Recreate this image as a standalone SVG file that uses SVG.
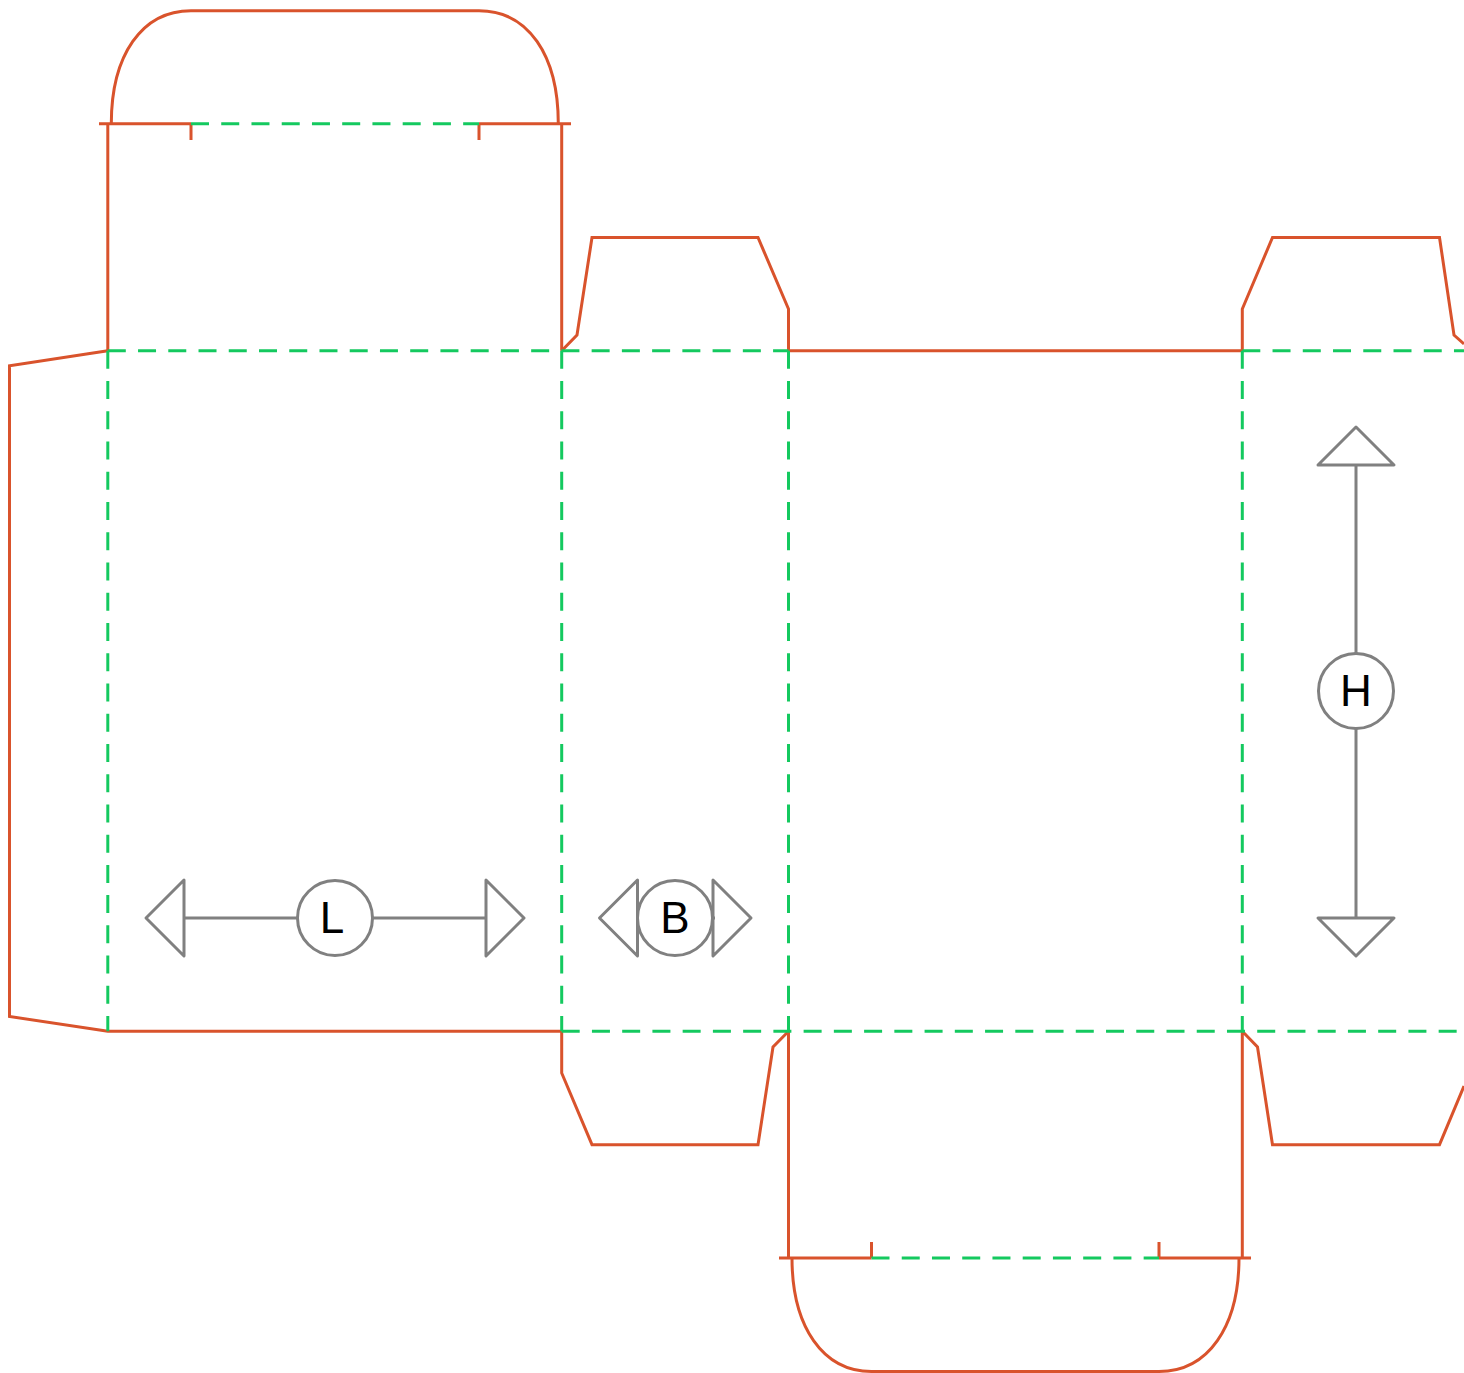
<svg xmlns="http://www.w3.org/2000/svg" width="1464" height="1373" viewBox="0 0 1464 1373">
<style>
.cut{fill:none;stroke:#d9532c;stroke-width:3;stroke-linejoin:miter}
.fold{fill:none;stroke:#14c95f;stroke-width:3;stroke-dasharray:18 12.24}
.dim{fill:none;stroke:#808080;stroke-width:3;stroke-linejoin:round}
.tri{fill:#fff;stroke:#808080;stroke-width:3;stroke-linejoin:round}
.circ{fill:#fff;stroke:#808080;stroke-width:3}
text{font-family:"Liberation Sans",Arial,sans-serif;font-size:44px;fill:#000;text-anchor:middle}
</style>
<rect width="1464" height="1373" fill="#fff"/>
<g id="cut-lines">
<path class="cut" d="M107.800 350.800V123.800M561.700 350.800V123.800M99 123.800H191M479 123.800H571M191 123.800V140M479 123.800V140"/>
<path class="cut" d="M111.300 123.800C111.300 55 142 10.700 191 10.700H479C528 10.700 558.300 55 558.300 123.800"/>
<path class="cut" d="M107.800 350.800L9.500 365.800V1016.500L107.800 1031.300H561.700"/>
<path class="cut" d="M561.700 350.800L577 335L592 237.500H758L788.500 309V350.800H1242.300V309L1272.500 237.500H1439.500L1454 335L1464 344"/>
<path class="cut" d="M561.700 1031.300V1073L592 1144.700H758L773 1047L788.500 1031.300V1258M1242.300 1031.300V1258M1242.300 1031.300L1257.500 1047L1272.500 1144.700H1439.500L1464 1086"/>
<path class="cut" d="M779 1258H871.500M1159 1258H1251M871.500 1258V1242M1159 1258V1242"/>
<path class="cut" d="M792 1258C792 1327 823 1371.500 871.500 1371.500H1159C1208 1371.500 1239 1327 1239 1258"/>
</g>
<g id="fold-lines">
<path class="fold" d="M191 123.800H479"/>
<path class="fold" d="M871.500 1258H1159"/>
<path class="fold" d="M107.800 350.800H788.500"/>
<path class="fold" d="M1242.300 350.800H1464"/>
<path class="fold" d="M561.700 1031.300H1464"/>
<path class="fold" d="M107.800 350.800V1031.300"/>
<path class="fold" d="M561.700 350.800V1031.300"/>
<path class="fold" d="M788.500 350.800V1031.300"/>
<path class="fold" d="M1242.300 350.800V1031.300"/>
</g>
<g id="dim-L">
<path class="dim" d="M184 918H486"/>
<path class="tri" d="M184 880L146 918L184 956Z"/>
<path class="tri" d="M486 880L524 918L486 956Z"/>
<circle class="circ" cx="335" cy="918" r="37.500"/>
<text x="332" y="933">L</text>
</g>
<g id="dim-B">
<path class="tri" d="M637.500 880L599.500 918L637.500 956Z"/>
<path class="tri" d="M713 880L751 918L713 956Z"/>
<path class="dim" d="M636 918H715"/>
<circle class="circ" cx="675" cy="918" r="37.500"/>
<text x="675" y="933">B</text>
</g>
<g id="dim-H">
<path class="dim" d="M1356 465V918"/>
<path class="tri" d="M1318 465L1356 427L1394 465Z"/>
<path class="tri" d="M1318 918L1356 956L1394 918Z"/>
<circle class="circ" cx="1356" cy="691" r="37.500"/>
<text x="1356" y="706">H</text>
</g>
</svg>
